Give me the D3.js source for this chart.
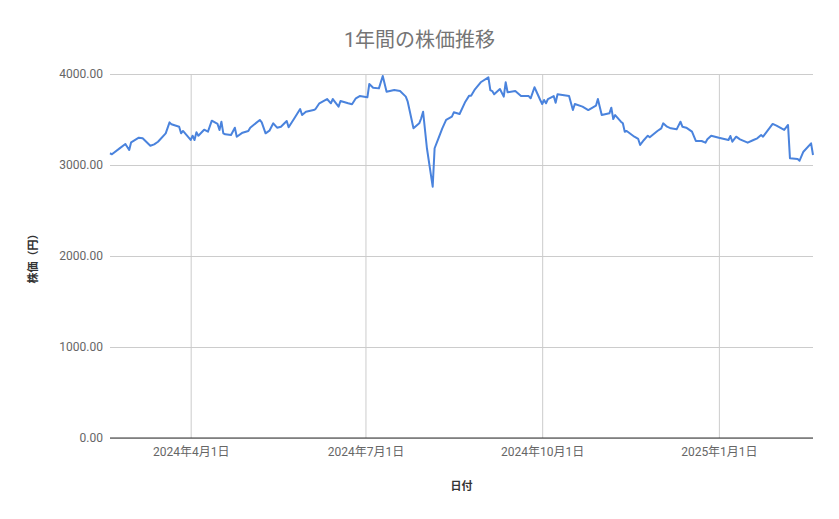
<html>
<head>
<meta charset="utf-8">
<title>1年間の株価推移</title>
<script src="https://d3js.org/d3.v7.min.js"></script>
<style>
  body { margin: 0; background: #fff; }
  text { font-family: Roboto, "Noto Sans CJK JP", sans-serif; }
</style>
</head>
<body>
<script>
// dates and closing prices
var dates = [
  "2024-02-19","2024-02-20","2024-02-24","2024-02-27","2024-02-29","2024-03-01","2024-03-05","2024-03-07",
  "2024-03-11","2024-03-13","2024-03-15","2024-03-19","2024-03-21","2024-03-22","2024-03-26","2024-03-27",
  "2024-03-28","2024-04-01","2024-04-02","2024-04-03","2024-04-04","2024-04-05","2024-04-08","2024-04-10",
  "2024-04-12","2024-04-15","2024-04-16","2024-04-17","2024-04-18","2024-04-19","2024-04-22","2024-04-24",
  "2024-04-25","2024-04-28","2024-05-01","2024-05-02","2024-05-07","2024-05-08","2024-05-10","2024-05-12",
  "2024-05-14","2024-05-16","2024-05-18","2024-05-21","2024-05-22","2024-05-25","2024-05-28","2024-05-29",
  "2024-05-31","2024-06-04","2024-06-05","2024-06-07","2024-06-11","2024-06-13","2024-06-14","2024-06-17",
  "2024-06-18","2024-06-22","2024-06-24","2024-06-26","2024-06-28","2024-07-02","2024-07-03","2024-07-05",
  "2024-07-08","2024-07-10","2024-07-12","2024-07-16","2024-07-19","2024-07-22","2024-07-23","2024-07-26",
  "2024-07-29","2024-07-30","2024-07-31","2024-08-02","2024-08-05","2024-08-06","2024-08-08","2024-08-10",
  "2024-08-12","2024-08-15","2024-08-16","2024-08-19","2024-08-22","2024-08-24","2024-08-25","2024-08-27",
  "2024-08-30","2024-09-03","2024-09-04","2024-09-05","2024-09-06","2024-09-09","2024-09-11","2024-09-12",
  "2024-09-13","2024-09-17","2024-09-20","2024-09-24","2024-09-25","2024-09-27","2024-09-30","2024-10-01",
  "2024-10-02","2024-10-03","2024-10-04","2024-10-07","2024-10-08","2024-10-09","2024-10-15","2024-10-17",
  "2024-10-18","2024-10-22","2024-10-25","2024-10-29","2024-10-30","2024-11-01","2024-11-05","2024-11-06",
  "2024-11-07","2024-11-08","2024-11-11","2024-11-12","2024-11-13","2024-11-14","2024-11-18","2024-11-20",
  "2024-11-21","2024-11-23","2024-11-25","2024-11-26","2024-11-30","2024-12-02","2024-12-03","2024-12-05",
  "2024-12-07","2024-12-10","2024-12-12","2024-12-13","2024-12-15","2024-12-18","2024-12-20","2024-12-23",
  "2024-12-25","2024-12-26","2024-12-28","2025-01-01","2025-01-06","2025-01-07","2025-01-08","2025-01-10",
  "2025-01-12","2025-01-16","2025-01-19","2025-01-21","2025-01-23","2025-01-24","2025-01-29","2025-01-31",
  "2025-02-04","2025-02-06","2025-02-07","2025-02-11","2025-02-12","2025-02-14","2025-02-18","2025-02-19"
];
var prices = [
  3129,3118,3183,3231,3165,3249,3300,3293,
  3212,3227,3256,3348,3469,3447,3421,3348,
  3374,3275,3322,3275,3359,3322,3388,3366,
  3487,3451,3385,3476,3348,3337,3330,3410,
  3311,3355,3374,3410,3495,3469,3348,3377,
  3458,3410,3421,3484,3414,3513,3615,3549,
  3586,3604,3615,3678,3725,3678,3725,3641,
  3703,3678,3667,3733,3758,3744,3890,3849,
  3842,3978,3806,3824,3813,3751,3696,3403,
  3458,3513,3586,3184,2762,3184,3293,3403,
  3495,3531,3579,3560,3696,3762,3762,3832,
  3909,3963,3824,3813,3777,3835,3751,3909,
  3799,3813,3758,3758,3733,3854,3714,3670,
  3714,3678,3725,3758,3685,3777,3758,3604,
  3670,3641,3604,3652,3725,3549,3568,3630,
  3505,3549,3476,3458,3366,3374,3311,3286,
  3220,3275,3322,3304,3374,3403,3458,3421,
  3403,3392,3476,3421,3410,3366,3264,3264,
  3245,3282,3322,3300,3275,3319,3256,3311,
  3282,3245,3275,3293,3330,3311,3451,3432,
  3385,3440,3074,3066,3047,3146,3238,3110
];
var yTicks = [0, 1000, 2000, 3000, 4000];
var xTicks = ["2024-04-01", "2024-07-01", "2024-10-01", "2025-01-01"];

var width = 839, height = 519;
var margin = {top: 74, right: 26, bottom: 81, left: 110};
var parse = d3.timeParse("%Y-%m-%d");

var data = dates.map(function(d, i) {
  return {date: parse(d), price: prices[i]};
});

var x = d3.scaleTime()
  .domain([parse("2024-02-19"), parse("2025-02-19")])
  .range([margin.left, width - margin.right]);

var y = d3.scaleLinear()
  .domain([0, 4000])
  .range([height - margin.bottom, margin.top]);

var svg = d3.select("body").append("svg")
  .attr("width", width)
  .attr("height", height);

// horizontal grid + y labels
var yAxis = d3.axisLeft(y)
  .tickValues(yTicks)
  .tickSize(-(width - margin.left - margin.right))
  .tickPadding(7)
  .tickFormat(d3.format(".2f"));

svg.append("g")
  .attr("transform", "translate(" + margin.left + ",0)")
  .call(yAxis)
  .call(function(g) {
    g.select(".domain").remove();
    g.selectAll(".tick line").attr("stroke", "#cccccc");
    g.selectAll(".tick text").attr("fill", "#666666").attr("font-size", 12);
  });

// vertical grid + date labels
var xAxis = d3.axisBottom(x)
  .tickValues(xTicks.map(parse))
  .tickSize(-(height - margin.top - margin.bottom))
  .tickPadding(9)
  .tickFormat(d3.timeFormat("%Y年%-m月%-d日"));

svg.append("g")
  .attr("transform", "translate(0," + (height - margin.bottom) + ")")
  .call(xAxis)
  .call(function(g) {
    g.select(".domain").remove();
    g.selectAll(".tick line").attr("stroke", "#cccccc");
    g.selectAll(".tick text").attr("fill", "#666666").attr("font-size", 12);
  });

// baseline
svg.append("line")
  .attr("x1", margin.left)
  .attr("x2", width - margin.right)
  .attr("y1", y(0))
  .attr("y2", y(0))
  .attr("stroke", "#333333")
  .attr("stroke-width", 1);

var line = d3.line()
  .x(function(d) { return x(d.date); })
  .y(function(d) { return y(d.price); });

svg.append("path")
  .datum(data)
  .attr("fill", "none")
  .attr("stroke", "#4a83dd")
  .attr("stroke-width", 2)
  .attr("stroke-linejoin", "round")
  .attr("d", line);

// titles
svg.append("text")
  .attr("x", width / 2)
  .attr("y", 47)
  .attr("text-anchor", "middle")
  .attr("font-size", 20)
  .attr("fill", "#757575")
  .text("1年間の株価推移");

svg.append("text")
  .attr("x", (margin.left + width - margin.right) / 2)
  .attr("y", 490)
  .attr("text-anchor", "middle")
  .attr("font-size", 11)
  .attr("font-weight", "bold")
  .attr("fill", "#333333")
  .text("日付");

svg.append("text")
  .attr("transform", "translate(37," + ((margin.top + height - margin.bottom) / 2) + ") rotate(-90)")
  .attr("text-anchor", "middle")
  .attr("font-size", 11)
  .attr("font-weight", "bold")
  .attr("fill", "#333333")
  .text("株価（円）");
</script>
</body>
</html>
